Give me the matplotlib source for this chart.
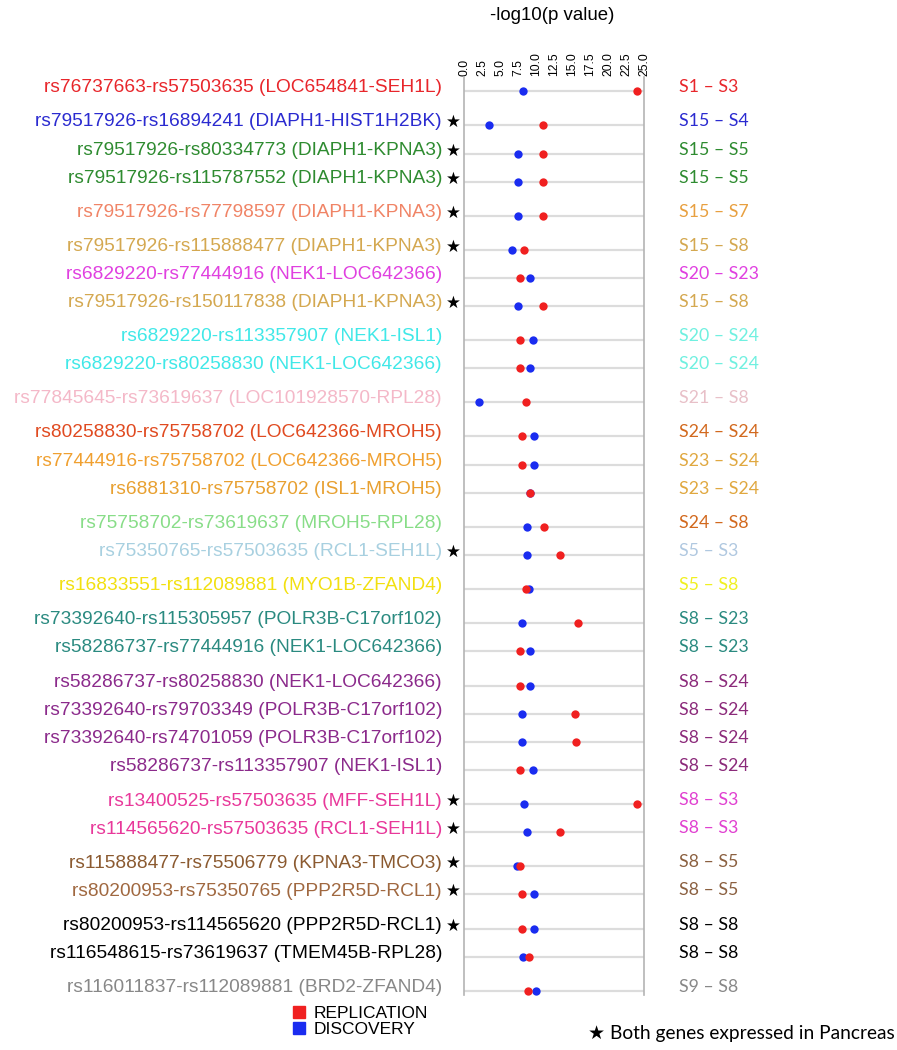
import matplotlib
matplotlib.use("Agg")
import matplotlib.pyplot as plt
from matplotlib.lines import Line2D
from matplotlib.transforms import blended_transform_factory

# ---------------- data ----------------
pair_labels = [
    "rs76737663-rs57503635 (LOC654841-SEH1L)",
    "rs79517926-rs16894241 (DIAPH1-HIST1H2BK)",
    "rs79517926-rs80334773 (DIAPH1-KPNA3)",
    "rs79517926-rs115787552 (DIAPH1-KPNA3)",
    "rs79517926-rs77798597 (DIAPH1-KPNA3)",
    "rs79517926-rs115888477 (DIAPH1-KPNA3)",
    "rs6829220-rs77444916 (NEK1-LOC642366)",
    "rs79517926-rs150117838 (DIAPH1-KPNA3)",
    "rs6829220-rs113357907 (NEK1-ISL1)",
    "rs6829220-rs80258830 (NEK1-LOC642366)",
    "rs77845645-rs73619637 (LOC101928570-RPL28)",
    "rs80258830-rs75758702 (LOC642366-MROH5)",
    "rs77444916-rs75758702 (LOC642366-MROH5)",
    "rs6881310-rs75758702 (ISL1-MROH5)",
    "rs75758702-rs73619637 (MROH5-RPL28)",
    "rs75350765-rs57503635 (RCL1-SEH1L)",
    "rs16833551-rs112089881 (MYO1B-ZFAND4)",
    "rs73392640-rs115305957 (POLR3B-C17orf102)",
    "rs58286737-rs77444916 (NEK1-LOC642366)",
    "rs58286737-rs80258830 (NEK1-LOC642366)",
    "rs73392640-rs79703349 (POLR3B-C17orf102)",
    "rs73392640-rs74701059 (POLR3B-C17orf102)",
    "rs58286737-rs113357907 (NEK1-ISL1)",
    "rs13400525-rs57503635 (MFF-SEH1L)",
    "rs114565620-rs57503635 (RCL1-SEH1L)",
    "rs115888477-rs75506779 (KPNA3-TMCO3)",
    "rs80200953-rs75350765 (PPP2R5D-RCL1)",
    "rs80200953-rs114565620 (PPP2R5D-RCL1)",
    "rs116548615-rs73619637 (TMEM45B-RPL28)",
    "rs116011837-rs112089881 (BRD2-ZFAND4)",
]
state_labels = [
    "S1 – S3", "S15 – S4", "S15 – S5", "S15 – S5", "S15 – S7", "S15 – S8",
    "S20 – S23", "S15 – S8", "S20 – S24", "S20 – S24", "S21 – S8", "S24 – S24",
    "S23 – S24", "S23 – S24", "S24 – S8", "S5 – S3", "S5 – S8", "S8 – S23",
    "S8 – S23", "S8 – S24", "S8 – S24", "S8 – S24", "S8 – S24", "S8 – S3",
    "S8 – S3", "S8 – S5", "S8 – S5", "S8 – S8", "S8 – S8", "S9 – S8",
]
discovery = [8.2, 3.5, 7.5, 7.55, 7.55, 6.7, 9.2, 7.5, 9.6, 9.2,
             2.1, 9.7, 9.7, 9.2, 8.8, 8.8, 9.0, 8.0, 9.2, 9.2,
             8.0, 8.0, 9.6, 8.4, 8.8, 7.35, 9.75, 9.75, 8.2, 10.05]
replication = [24.0, 11.0, 10.95, 10.95, 10.95, 8.35, 7.8, 10.95, 7.8, 7.8,
               8.6, 8.1, 8.1, 9.1, 11.05, 13.3, 8.6, 15.9, 7.8, 7.8,
               15.4, 15.55, 7.8, 24.0, 13.3, 7.8, 8.1, 8.1, 9.05, 8.95]
both_pancreas = [False, True, True, True, True, True, False, True, False, False,
                 False, False, False, False, False, True, False, False, False, False,
                 False, False, False, True, True, True, True, True, False, False]
x_ticks = [0.0, 2.5, 5.0, 7.5, 10.0, 12.5, 15.0, 17.5, 20.0, 22.5, 25.0]

# ---------------- layout / style ----------------
W, H = 897, 1050
row_y = [91, 125, 154, 182, 216, 250, 278, 306, 340, 368, 402, 436, 465, 493, 527,
         555, 589, 623, 651, 686, 714, 742, 770, 804, 832, 866, 894, 929, 957, 991]
left_colors = ["#e8262b", "#2b2bd0", "#2e8b30", "#2e8b30", "#f08466", "#d4a850",
               "#e040e0", "#d4a850", "#40e8e8", "#40e8e8", "#f4b8c8", "#e04a20",
               "#f0a030", "#e8a030", "#88dd88", "#a8d0e0", "#f2e010", "#2a8a80",
               "#2a8a80", "#8b2a8b", "#8b2a8b", "#8b2a8b", "#8b2a8b", "#e8389a",
               "#e8389a", "#8b5a30", "#a06840", "#000000", "#000000", "#888888"]
right_colors = ["#e8262b", "#2b2bd0", "#2e8b30", "#2e8b30", "#e8a040", "#d4a850",
                "#e040e0", "#d4a850", "#70f0e0", "#70f0e0", "#e8c0c8", "#d2691e",
                "#e0a840", "#e0a840", "#d2691e", "#b0c8e0", "#f0f020", "#2a8a80",
                "#2a8a80", "#8b2a7a", "#8b2a7a", "#8b2a7a", "#8b2a7a", "#e040d0",
                "#e040d0", "#8b6040", "#8b6040", "#000000", "#000000", "#888888"]
RED, BLUE = "#f02020", "#1a2cf0"

fig = plt.figure(figsize=(W / 100, H / 100), dpi=100)
ax = fig.add_axes([464 / W, 1 - 995 / H, (644 - 464) / W, (995 - 77) / H])
ax.set_xlim(0, 25)
ax.set_ylim(995, 77)

for y in row_y:
    ax.axhline(y, color="#dcdcdc", lw=1.6, zorder=1)

ax.scatter(discovery, row_y, s=36, color=BLUE, zorder=3, linewidths=0)
ax.scatter(replication, row_y, s=36, color=RED, zorder=4, linewidths=0)

ax.xaxis.tick_top()
ax.set_xticks(x_ticks)
ax.set_xticklabels([f"{t:.1f}" for t in x_ticks], rotation=90,
                   fontsize=8.8, family="Liberation Sans")
ax.tick_params(axis="x", length=0, pad=1)
ax.set_yticks([])
for side in ("top", "bottom"):
    ax.spines[side].set_visible(False)
for side in ("left", "right"):
    ax.spines[side].set_color("#b4b4b4")
    ax.spines[side].set_linewidth(1.2)

fig.text(552 / W, 1 - 15 / H, "-log10(p value)", ha="center", va="center",
         fontsize=13.4, family="Liberation Sans")

tr = blended_transform_factory(fig.transFigure, ax.transData)
for i, y in enumerate(row_y):
    fig.text(442 / W, y - 3, pair_labels[i], transform=tr, ha="right", va="center",
             fontsize=13.8, family="Liberation Sans", color=left_colors[i])
    if both_pancreas[i]:
        fig.text(453 / W, y - 3, "★", transform=tr, ha="center", va="center",
                 fontsize=12, family="DejaVu Sans", color="black")
    fig.text(679 / W, y - 4, state_labels[i], transform=tr, ha="left", va="center",
             fontsize=12.8, family="Lato", color=right_colors[i])

handles = [Line2D([], [], marker="s", ls="none", color=RED, markersize=8),
           Line2D([], [], marker="s", ls="none", color=BLUE, markersize=8)]
fig.legend(handles, ["REPLICATION", "DISCOVERY"], loc="upper left",
           bbox_to_anchor=(284 / W, 1 - 997 / H), frameon=False,
           handlelength=0.7, handletextpad=0.5, labelspacing=0.05,
           borderpad=0, prop={"family": "Liberation Sans", "size": 12.5})

fig.text(588 / W, 1 - 1033 / H, "★ Both genes expressed in Pancreas",
         ha="left", va="center", fontsize=13.8, family=["Lato", "DejaVu Sans"])

fig.savefig("out.png", dpi=100)
